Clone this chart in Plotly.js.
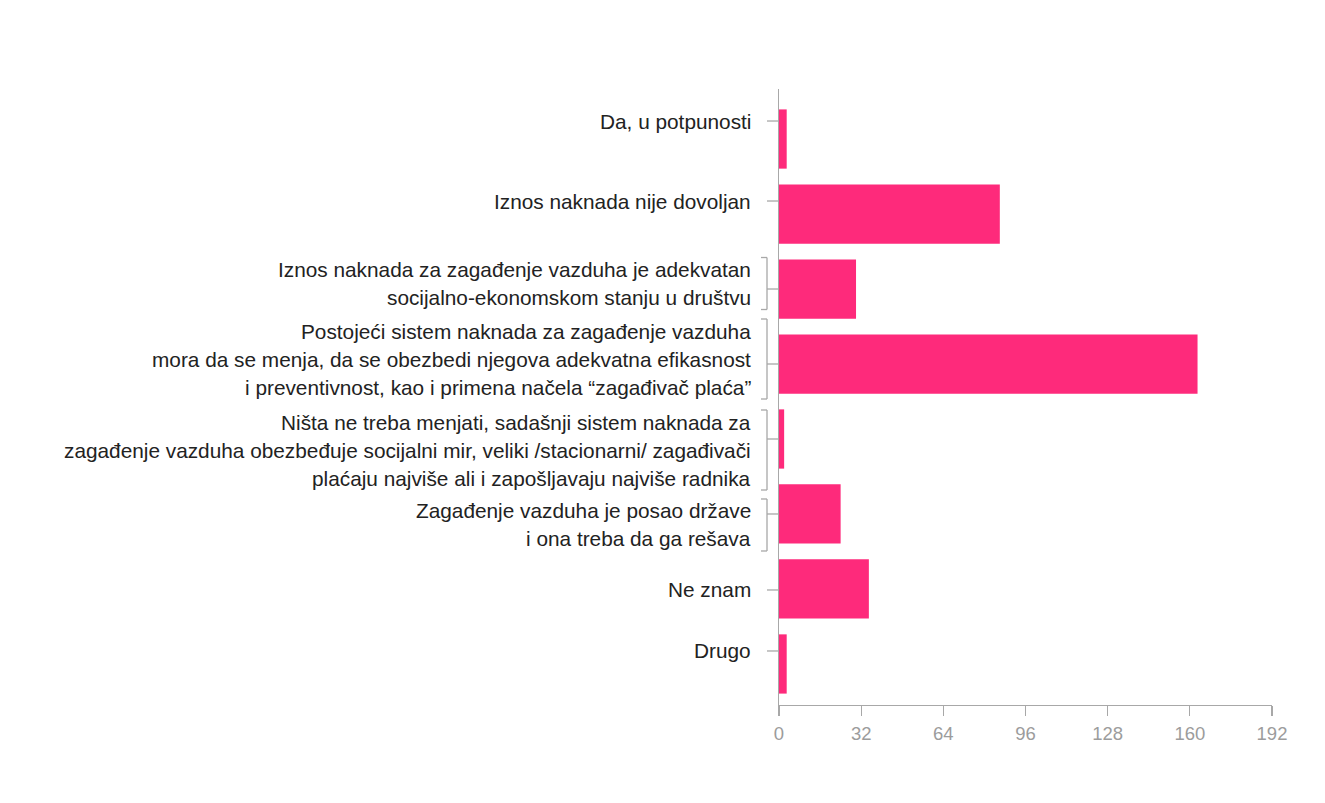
<!DOCTYPE html>
<html>
<head>
<meta charset="utf-8">
<script src="https://cdn.plot.ly/plotly-3.0.1.min.js"></script>
<style>
html,body{margin:0;padding:0;background:#fff;}
#chart{width:1325px;height:803px;}
</style>
</head>
<body>
<div id="chart"></div>
<script>
// ---- data ----
const labelLines = [
  ["Da, u potpunosti"],
  ["Iznos naknada nije dovoljan"],
  ["Iznos naknada za zagađenje vazduha je adekvatan", "socijalno-ekonomskom stanju u društvu"],
  ["Postojeći sistem naknada za zagađenje vazduha", "mora da se menja, da se obezbedi njegova adekvatna efikasnost", "i preventivnost, kao i primena načela “zagađivač plaća”"],
  ["Ništa ne treba menjati, sadašnji sistem naknada za", "zagađenje vazduha obezbeđuje socijalni mir, veliki /stacionarni/ zagađivači", "plaćaju najviše ali i zapošljavaju najviše radnika"],
  ["Zagađenje vazduha je posao države", "i ona treba da ga rešava"],
  ["Ne znam"],
  ["Drugo"]
];
const counts = [3, 86, 30, 163, 2, 24, 35, 3];
const xTickValues = [0, 32, 64, 96, 128, 160, 192];

// ---- layout settings ----
const categories = labelLines.map(l => l.join(" "));
const lineH = 28;                 // px between label lines
const labelNudgePx = [-18, -13, -5.5, -5, 11, 11, 1, -13]; // label block offset (down +) vs bar centre
const textGap = 27;               // px from axis to text right edge
const tickLen = 12;
const serif = 6;
const axisGray = "#a8a8a8";
const font = 'Arial, "Liberation Sans", sans-serif';

const annotations = [];
const shapes = [];
labelLines.forEach((lines, i) => {
  const n = lines.length;
  const c = -labelNudgePx[i]; // upward-positive offset of text centre
  lines.forEach((t, j) => {
    annotations.push({
      x: 0, xref: "x", y: i, yref: "y",
      xanchor: "right", yanchor: "middle",
      xshift: -textGap + 1,
      yshift: c + ((n - 1) / 2 - j) * lineH,
      text: t, showarrow: false,
      font: {family: font, size: 20.8, color: "#222"}
    });
  });
  const common = {type: "line", xref: "paper", yref: "y", xsizemode: "pixel", ysizemode: "pixel",
                   xanchor: 0, yanchor: i, layer: "above", line: {color: axisGray, width: 1.3}};
  if (n === 1) {
    shapes.push(Object.assign({}, common, {x0: -tickLen, x1: 0, y0: c, y1: c}));
  } else {
    const half = n * lineH / 2 - 2;
    const top = c + half, bot = c - half;
    shapes.push(Object.assign({}, common, {x0: -tickLen, x1: 0, y0: 0, y1: 0}));
    shapes.push(Object.assign({}, common, {x0: -tickLen, x1: -tickLen, y0: bot, y1: top}));
    shapes.push(Object.assign({}, common, {x0: -tickLen - serif, x1: -tickLen, y0: top, y1: top}));
    shapes.push(Object.assign({}, common, {x0: -tickLen - serif, x1: -tickLen, y0: bot, y1: bot}));
  }
});

const trace = {
  type: "bar", orientation: "h",
  x: counts, y: categories,
  marker: {color: "#fe2a7b"},
  hoverinfo: "x+y"
};

const layout = {
  width: 1325, height: 803,
  margin: {l: 779, r: 53, t: 89, b: 98},
  paper_bgcolor: "#fff", plot_bgcolor: "#fff",
  showlegend: false,
  bargap: 0.21,
  xaxis: {
    range: [0, 192], tickvals: xTickValues, ticktext: xTickValues.map(String),
    showgrid: false, zeroline: false,
    showline: true, linecolor: axisGray, linewidth: 1.3,
    ticks: "outside", ticklen: 10, tickcolor: axisGray, tickwidth: 1.3,
    ticklabelstandoff: 1,
    tickfont: {family: font, size: 18.5, color: "#9c9c9c"},
    fixedrange: true
  },
  yaxis: {
    type: "category", categoryarray: categories, categoryorder: "array",
    range: [7.547, -0.667],
    showticklabels: false, ticks: "",
    showgrid: false, zeroline: false,
    showline: true, linecolor: axisGray, linewidth: 1.3,
    fixedrange: true
  },
  annotations: annotations,
  shapes: shapes
};

Plotly.newPlot("chart", [trace], layout, {displayModeBar: false, staticPlot: true});
</script>
</body>
</html>
